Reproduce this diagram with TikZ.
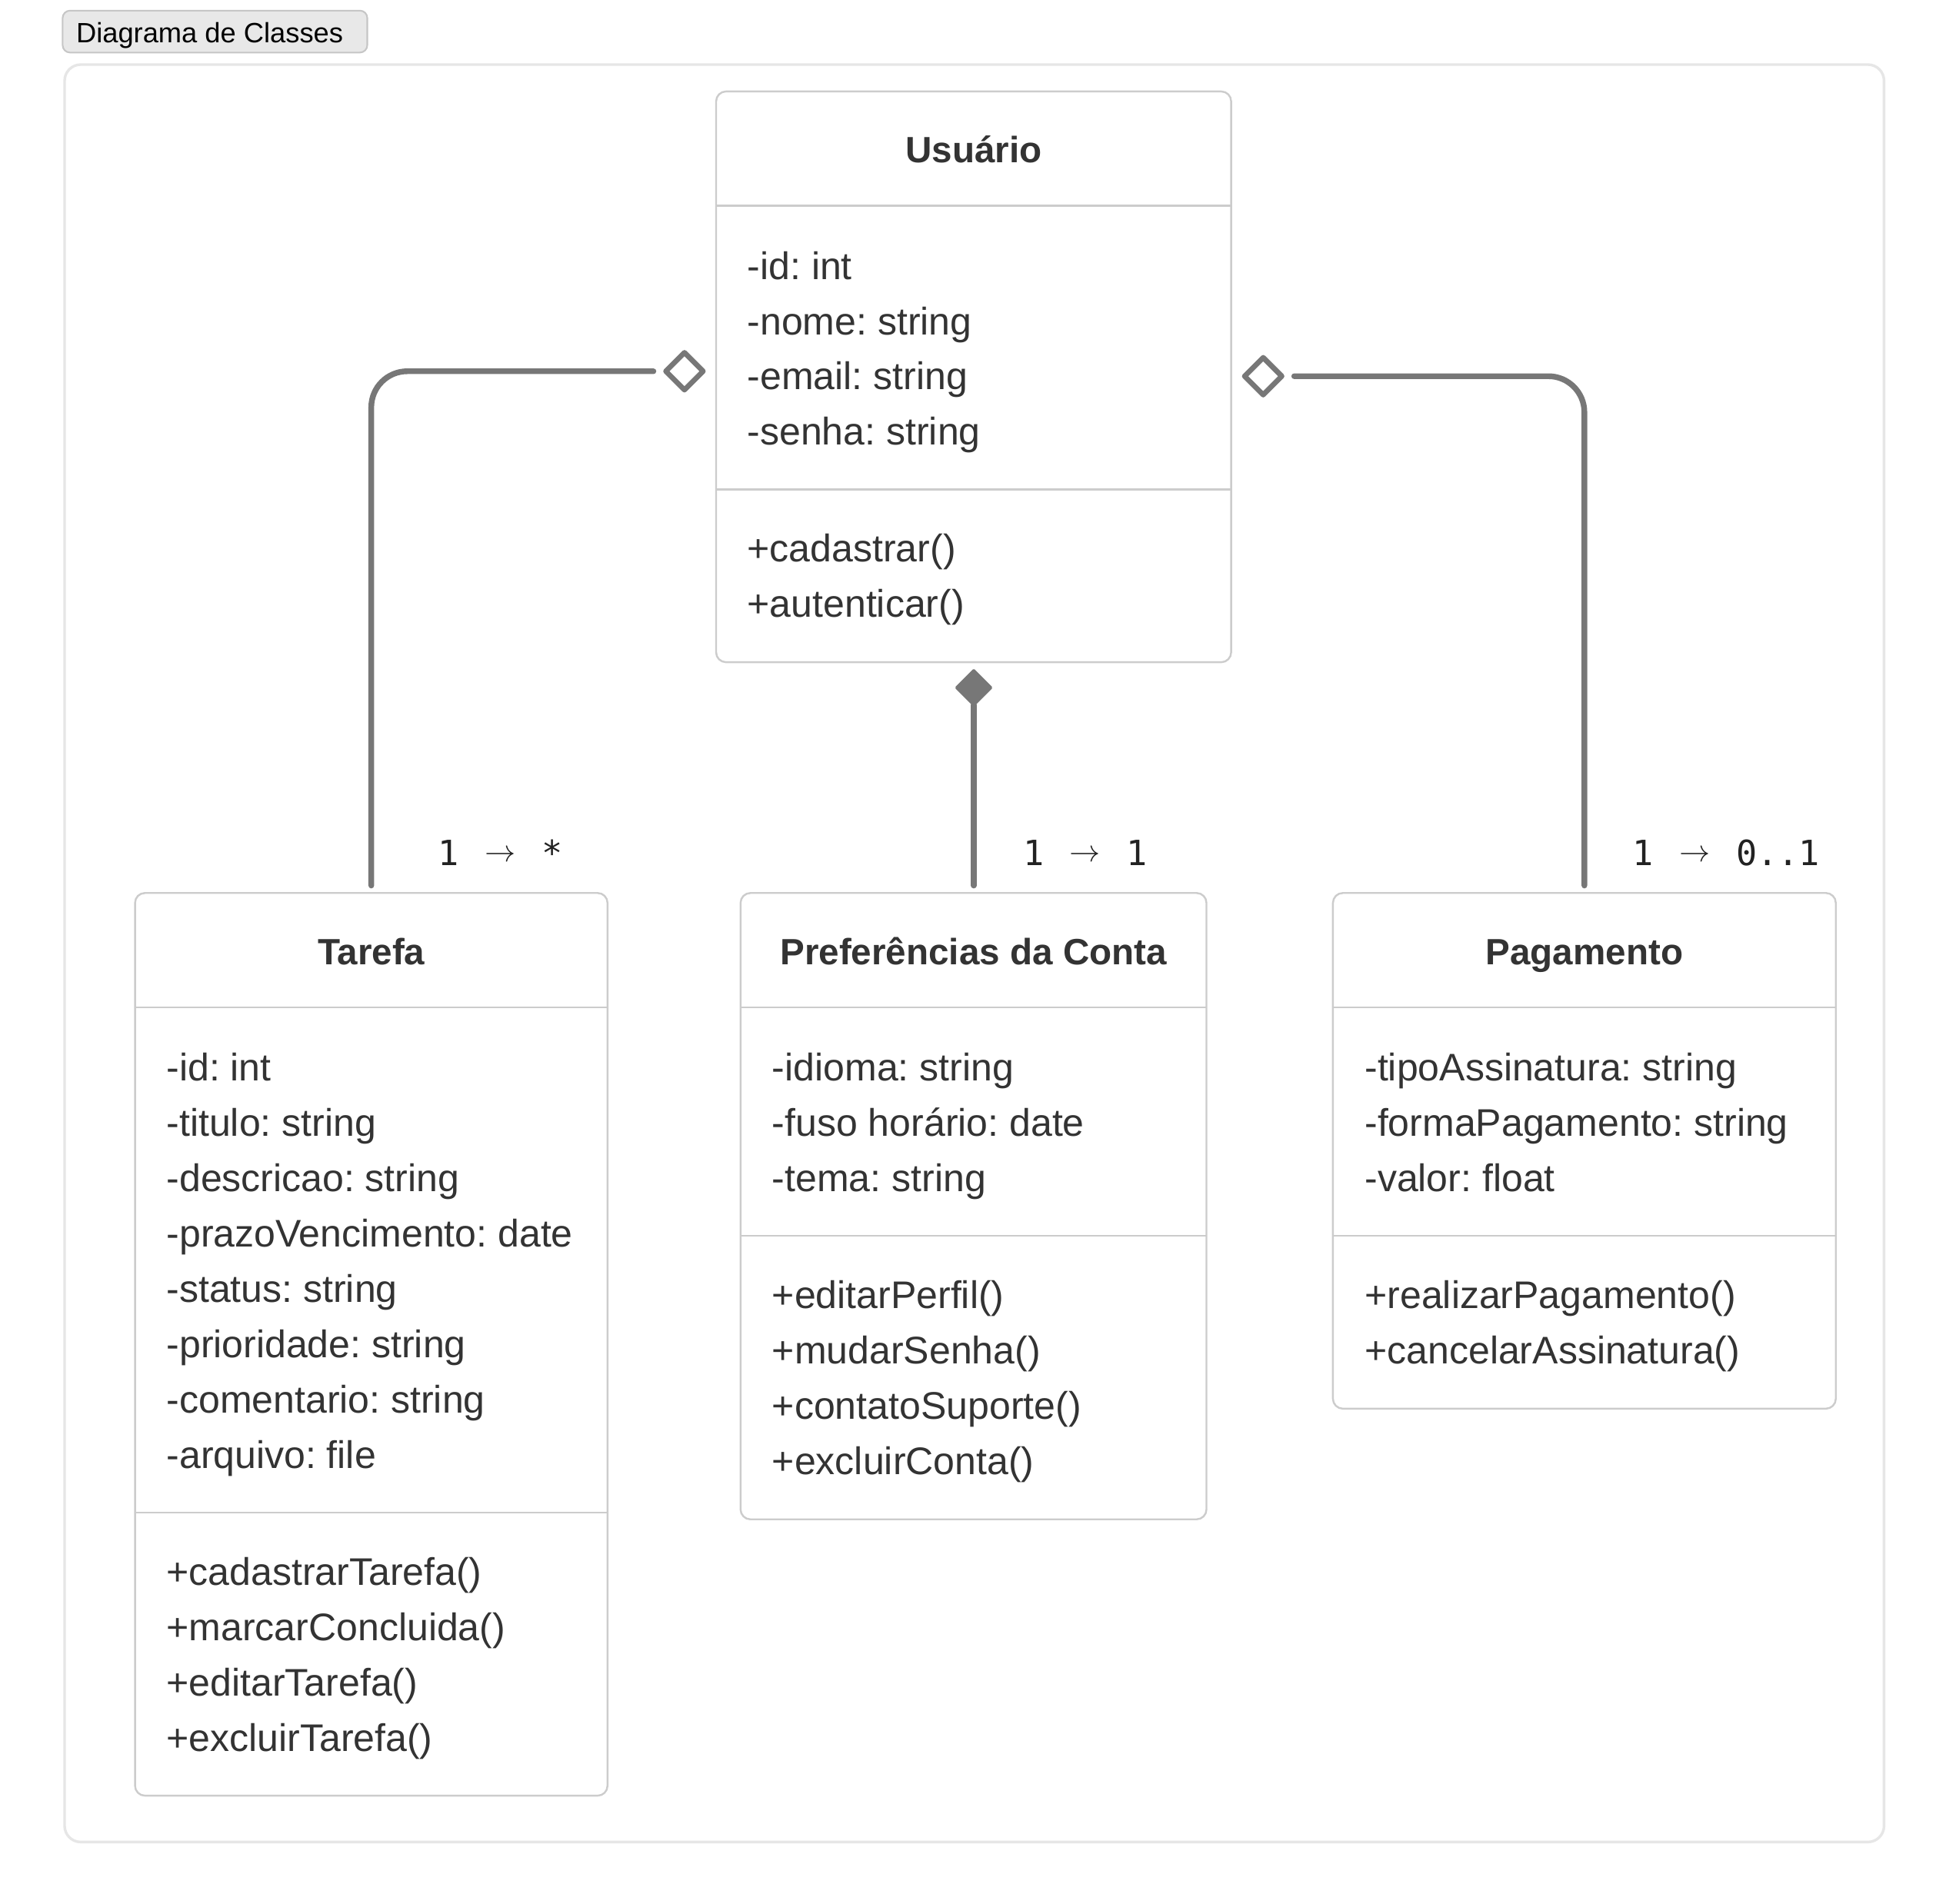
\documentclass[tikz,border=0pt]{standalone}
\usepackage{fontspec}
\setmainfont{Liberation Sans}
\newfontfamily\monofont{DejaVu Sans Mono}
\usetikzlibrary{shapes.geometric}
\definecolor{connc}{HTML}{777777}
\definecolor{boxline}{HTML}{CCCCCC}
\definecolor{frameline}{HTML}{E6E6E6}
\definecolor{txt}{HTML}{333333}
\definecolor{multc}{HTML}{222222}
\definecolor{tagfill}{HTML}{E8E8E8}
\definecolor{tagline}{HTML}{C6C6C6}
\newcommand{\multarrow}{\raisebox{3.5pt}{\fontsize{24}{24}\selectfont$\rightarrow$}}
\frenchspacing
\begin{document}
\begin{tikzpicture}[x=1pt,y=-1pt,
  classbox/.style={draw=boxline, line width=1.5pt, rounded corners=8pt, fill=white, inner sep=0pt, outer sep=0pt, anchor=north west},
  divider/.style={draw=boxline, line width=1.5pt},
  classtitle/.style={font=\fontsize{29.5}{35}\selectfont\bfseries, text=txt, anchor=base, inner sep=0pt},
  member/.style={font=\fontsize{31}{36}\selectfont, text=txt, anchor=base west, inner sep=0pt},
  connline/.style={draw=connc, line width=4.6pt, line cap=round, rounded corners=29pt},
  aggr/.style={diamond, aspect=1, draw=connc, line width=4.2pt, fill=white, minimum width=30pt, minimum height=30pt, inner sep=0pt, outer sep=0pt, line join=round},
  compo/.style={diamond, aspect=1, draw=connc, fill=connc, line width=2pt, line join=round, minimum width=28pt, minimum height=28pt, inner sep=0pt, outer sep=0pt},
  mult/.style={font=\fontsize{28}{32}\selectfont\monofont, text=multc, anchor=base west, inner sep=0pt}
]
\useasboundingbox (0,0) rectangle (1568,1534.5);
\fill[white] (0,0) rectangle (1568,1534.5);

% tag and frame
\node[draw=tagline, fill=tagfill, rounded corners=6pt, line width=1.3pt, minimum width=245.5pt, minimum height=33.8pt, anchor=north west, inner sep=0pt] (tag) at (49.8,7.9) {};
\node[font=\fontsize{22.5}{27}\selectfont, text=black, anchor=base west, inner sep=0pt] (tagtext) at (61.2,34.1) {Diagrama de Classes};
\node[draw=frameline, line width=2.1pt, rounded corners=13pt, minimum width=1466pt, minimum height=1432.5pt, anchor=north west, inner sep=0pt] (frame) at (51,51) {};

% Usuario
\node[classbox, minimum width=415pt, minimum height=460pt] (usuario) at (577,73.7) {};
\draw[divider] (577,165.7) -- (992,165.7);
\draw[divider] (577,394.5) -- (992,394.5);
\node[classtitle] (usuarioT) at (784.5,130.8) {Usuário};
\foreach \t [count=\i from 0] in {-id: int,-nome: string,-email: string,-senha: string}
  \node[member] (usuarioA\i) at (602,225+44.6*\i) {\t};
\foreach \t [count=\i from 0] in {+cadastrar(),+autenticar()}
  \node[member] (usuarioM\i) at (602,453+44.6*\i) {\t};

% Tarefa
\node[classbox, minimum width=380.7pt, minimum height=727.5pt] (tarefa) at (108.8,719.7) {};
\draw[divider] (108.8,811.7) -- (489.5,811.7);
\draw[divider] (108.8,1219) -- (489.5,1219);
\node[classtitle] (tarefaT) at (299.2,777.3) {Tarefa};
\foreach \t [count=\i from 0] in {-id: int,-titulo: string,-descricao: string,-prazoVencimento: date,-status: string,-prioridade: string,-comentario: string,-arquivo: file}
  \node[member] (tarefaA\i) at (134,871.3+44.6*\i) {\t};
\foreach \t [count=\i from 0] in {+cadastrarTarefa(),+marcarConcluida(),+editarTarefa(),+excluirTarefa()}
  \node[member] (tarefaM\i) at (134,1277.5+44.6*\i) {\t};

% Preferencias
\node[classbox, minimum width=375.4pt, minimum height=504.8pt] (pref) at (596.7,719.7) {};
\draw[divider] (596.7,811.7) -- (972.1,811.7);
\draw[divider] (596.7,996) -- (972.1,996);
\node[classtitle] (prefT) at (784.4,777.3) {Preferências da Conta};
\foreach \t [count=\i from 0] in {-idioma: string,-fuso horário: date,-tema: string}
  \node[member] (prefA\i) at (622,871.3+44.6*\i) {\t};
\foreach \t [count=\i from 0] in {+editarPerfil(),+mudarSenha(),+contatoSuporte(),+excluirConta()}
  \node[member] (prefM\i) at (622,1054.5+44.6*\i) {\t};

% Pagamento
\node[classbox, minimum width=405.2pt, minimum height=415.6pt] (pag) at (1074,719.7) {};
\draw[divider] (1074,811.7) -- (1479.2,811.7);
\draw[divider] (1074,996) -- (1479.2,996);
\node[classtitle] (pagT) at (1276.6,777.3) {Pagamento};
\foreach \t [count=\i from 0] in {-tipoAssinatura: string,-formaPagamento: string,-valor: float}
  \node[member] (pagA\i) at (1099.5,871.3+44.6*\i) {\t};
\foreach \t [count=\i from 0] in {+realizarPagamento(),+cancelarAssinatura()}
  \node[member] (pagM\i) at (1099.5,1054.5+44.6*\i) {\t};

% diamonds
\node[aggr] (aggL) at (551.5,299.2) {};
\node[aggr] (aggR) at (1017.8,303.2) {};
\node[compo] (comp) at (784.6,554.2) {};

% connectors
\draw[connline] ([yshift=6pt]tarefa.north) |- ([xshift=-10pt]aggL.west);
\draw[connline] ([xshift=10pt]aggR.east) -| ([yshift=6pt]pag.north);
\draw[connline] (comp.south) -- ([yshift=6pt]pref.north -| comp.south);

% multiplicities
\node[mult] (m1) at (352.9,697.7) {1\kern4pt\ \multarrow\ \kern4pt*};
\node[mult] (m2) at (824.1,697.7) {1\kern4pt\ \multarrow\ \kern4pt1};
\node[mult] (m3) at (1315.2,697.7) {1\kern4pt\ \multarrow\ \kern4pt0..1};
\end{tikzpicture}
\end{document}
